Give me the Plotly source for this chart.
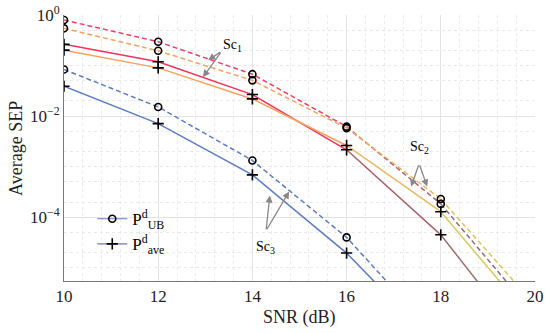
import plotly.graph_objects as go

# ---- data ----
snr = [10, 12, 14, 16, 18, 20]
# red lineage -> brown at high SNR
ub_red = [0.796, 0.296, 0.0676, 6.2e-3, 1.84e-4, 1.15e-6]
ave_red = [0.263, 0.119, 0.0267, 2.16e-3, 4.5e-5, 1.9e-7]
# orange lineage -> yellow at high SNR
ub_orange = [0.545, 0.196, 0.051, 5.8e-3, 2.3e-4, 1.86e-6]
ave_orange = [0.202, 0.090, 0.0219, 2.63e-3, 1.29e-4, 8.1e-7]
# scenario 3 (blue)
snr_blue = [10, 12, 14, 16, 18]
ub_blue = [0.0837, 0.0152, 1.33e-3, 4.0e-5, 3.6e-7]
ave_blue = [0.039, 0.0071, 6.9e-4, 1.96e-5, 2.4e-7]

y_ticks = [1, 1e-2, 1e-4]
y_ticktext = ["10<sup>0</sup>", "10<sup>\u22122</sup>", "10<sup>\u22124</sup>"]
x_ticks = [10, 12, 14, 16, 18, 20]

FONT = "Liberation Serif"

fig = go.Figure()

def add_segmented(x, y, colors, dash):
    for s, e, c in colors:
        fig.add_trace(go.Scatter(x=x[s:e + 1], y=y[s:e + 1], mode="lines",
                                 line=dict(color=c, width=1.5, dash=dash),
                                 showlegend=False, hoverinfo="skip"))

DASH = "5px,3px"
add_segmented(snr, ub_red, [(0, 3, "#e8406a"), (3, 4, "#b25c78"), (4, 5, "#8e6c84")], DASH)
add_segmented(snr, ub_orange, [(0, 3, "#f4a25e"), (3, 4, "#e9b75e"), (4, 5, "#dcc65c")], DASH)
add_segmented(snr, ave_red, [(0, 3, "#e8345f"), (3, 4, "#a8606a"), (4, 5, "#9a706e")], None)
add_segmented(snr, ave_orange, [(0, 3, "#f4a25e"), (3, 4, "#e6bb60"), (4, 5, "#d8c860")], None)
add_segmented(snr_blue, ub_blue, [(0, 4, "#5d7cc0")], DASH)
add_segmented(snr_blue, ave_blue, [(0, 4, "#5d7cc0")], None)

circle = dict(symbol="circle-open", size=7, color="black", line=dict(width=1.6, color="black"))
plus = dict(symbol="cross-thin-open", size=8, color="black", line=dict(width=1.6, color="black"))

for y in (ub_red, ub_orange):
    fig.add_trace(go.Scatter(x=snr, y=y, mode="markers", marker=circle, showlegend=False))
for y in (ave_red, ave_orange):
    fig.add_trace(go.Scatter(x=snr, y=y, mode="markers", marker=plus, showlegend=False))
fig.add_trace(go.Scatter(x=snr_blue, y=ub_blue, mode="markers", marker=circle, showlegend=False))
fig.add_trace(go.Scatter(x=snr_blue, y=ave_blue, mode="markers", marker=plus, showlegend=False))

# legend entries
fig.add_trace(go.Scatter(x=[None], y=[None], mode="lines+markers", marker=circle,
                         line=dict(color="#6a78b8", width=1.2),
                         name="P<sup>d</sup><sub>UB</sub>"))
fig.add_trace(go.Scatter(x=[None], y=[None], mode="lines+markers", marker=plus,
                         line=dict(color="#6a78b8", width=1.2),
                         name="P<sup>d</sup><sub>ave</sub>"))

# annotations (label + arrows), positions in data coords (log10 for y)
labels = [
    ("Sc<sub>1</sub>", 13.57, -0.60, [(13.35, -0.714, 13.06, -0.893), (13.35, -0.714, 12.95, -1.23)]),
    ("Sc<sub>2</sub>", 17.54, -2.62, [(17.54, -2.94, 17.37, -3.393), (17.54, -2.94, 17.71, -3.393)]),
    ("Sc<sub>3</sub>", 14.27, -4.60, [(14.29, -4.266, 14.37, -3.571), (14.29, -4.266, 14.78, -3.49)]),
]
for text, tx, ty, arrows in labels:
    fig.add_annotation(x=tx, y=ty, xref="x", yref="y", text=text, showarrow=False,
                       font=dict(family=FONT, size=14, color="black"))
    for ax, ay, hx, hy in arrows:
        fig.add_annotation(x=hx, y=hy, ax=ax, ay=ay, xref="x", yref="y", axref="x", ayref="y",
                           text="", showarrow=True, arrowhead=2, arrowsize=1.1,
                           arrowwidth=1.3, arrowcolor="#888888")

# axis titles as annotations for precise placement
fig.add_annotation(x=0.5, y=-0.139, xref="paper", yref="paper", yanchor="middle",
                   text="SNR (dB)", showarrow=False,
                   font=dict(family=FONT, size=18, color="#222222"))
fig.add_annotation(x=-0.102, y=0.5, xref="paper", yref="paper", xanchor="center",
                   text="Average SEP", textangle=-90, showarrow=False,
                   font=dict(family=FONT, size=18, color="#222222"))

fig.update_layout(
    width=550, height=333,
    margin=dict(l=64, r=15, t=15, b=52, autoexpand=False),
    paper_bgcolor="white", plot_bgcolor="white",
    font=dict(family=FONT, size=15, color="#222222"),
    legend=dict(x=0.06, y=0.30, xanchor="left", yanchor="top",
                bgcolor="rgba(0,0,0,0)", font=dict(family=FONT, size=17, color="black"),
                itemwidth=30, tracegroupgap=0),
)
fig.update_xaxes(
    range=[10, 20], tickvals=x_ticks, ticks="", showline=True, linecolor="#777777", linewidth=1,
    showgrid=True, gridcolor="#e3e3e3", gridwidth=1, automargin=False,
    ticklabeloverflow="allow",
    minor=dict(dtick=0.4, showgrid=True, gridcolor="#ececec", griddash="dot"),
    tickfont=dict(family=FONT, size=17, color="#222222"), zeroline=False,
)
fig.update_yaxes(
    type="log", range=[-5.26, 0], tickvals=y_ticks, ticktext=y_ticktext, ticks="",
    showline=True, linecolor="#777777", linewidth=1, automargin=False,
    ticklabeloverflow="allow",
    showgrid=True, gridcolor="#e3e3e3", gridwidth=1,
    minor=dict(showgrid=True, gridcolor="#e9e9e9", griddash="dot"),
    tickfont=dict(family=FONT, size=17, color="#222222"), zeroline=False,
)

# remove the default page margin so the figure sits at the window's top-left
fig.write_html("out.html", config={"displayModeBar": False},
               post_script="document.body.style.margin='0px';")
